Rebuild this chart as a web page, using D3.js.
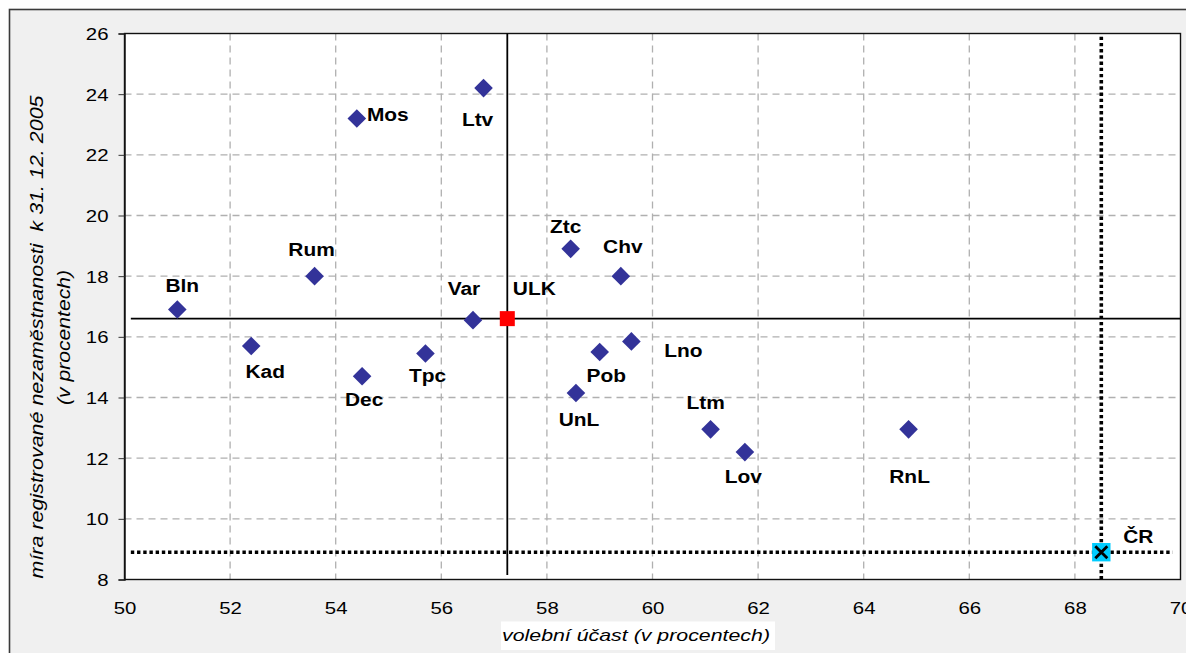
<!DOCTYPE html>
<html><head><meta charset="utf-8">
<script src="https://cdn.jsdelivr.net/npm/d3@7"></script>
<style>
html,body{margin:0;padding:0;background:#fff;}
svg{display:block;font-family:"Liberation Sans",Arial,sans-serif;}
</style></head>
<body>
<svg id="chart" width="1186" height="653"></svg>
<script>
// ---- data ----
const districts = ["Bln","Kad","Rum","Mos","Dec","Tpc","Var","Ltv","Ztc","Chv","Lno","Pob","UnL","Ltm","Lov","RnL"];
const turnout   = [51.0, 52.4, 53.6, 54.4, 54.5, 55.7, 56.6, 56.8, 58.45, 59.4, 59.6, 59.0, 58.55, 61.1, 61.75, 64.85];
const unemploy  = [16.9, 15.7, 18.0, 23.2, 14.7, 15.45, 16.55, 24.2, 18.9, 18.0, 15.85, 15.5, 14.15, 12.95, 12.2, 12.95];
const regionName = "ULK", regionTurnout = 57.25, regionUnemploy = 16.6;
const countryName = "ČR", countryTurnout = 68.5, countryUnemploy = 8.9;
const xTicks = [50,52,54,56,58,60,62,64,66,68,70];
const yTicks = [8,10,12,14,16,18,20,22,24,26];
const xTitle = "volební účast (v procentech)";
const yTitle1 = "míra registrované nezaměstnanosti  k 31. 12. 2005";
const yTitle2 = "(v procentech)";
// reference-line extents (data units)
const regionHLine = [50.12, 70];
const regionVLine = [8.15, 26];
const countryHLine = [50.12, 69.85];
const countryVLine = [8.0, 25.95];
// label placement (pixel offsets from marker, layout only)
const labelOffsets = [[5,-18],[14,32],[-3,-20],[31,3],[2,30],[2,28.5],[-9,-25],[-6,37.5],[-5,-16],[2,-23.5],[52,16],[6.5,29.5],[3,33.5],[-5,-20],[-1.5,31],[1,53.5]];
const regionLabelOffset = [27,-23.5];
const countryLabelOffset = [37,-9];

// ---- layout ----
const svg = d3.select("#chart");
const L = 124.5, R = 1180.5, T = 33.5, B = 579.5;
const x = d3.scaleLinear().domain([50,70]).range([L,R]);
const y = d3.scaleLinear().domain([8,26]).range([B,T]);

// outer frame
svg.append("rect").attr("x",9.5).attr("y",9.5).attr("width",1200).attr("height",700)
  .attr("fill","#f0f0f0").attr("stroke","#3a3a3a").attr("stroke-width",1.6);
// plot area
svg.append("rect").attr("x",L).attr("y",T).attr("width",R-L).attr("height",B-T).attr("fill","#fff");

// grid
const grid = svg.append("g").attr("stroke","#b0b0b0").attr("stroke-width",1.3).attr("stroke-dasharray","7,5");
grid.selectAll("line.v").data(xTicks.filter(d=>d>50&&d<70)).enter().append("line")
  .attr("x1",d=>x(d)).attr("x2",d=>x(d)).attr("y1",T).attr("y2",B);
grid.selectAll("line.h").data(yTicks.filter(d=>d>8&&d<26)).enter().append("line")
  .attr("y1",d=>y(d)).attr("y2",d=>y(d)).attr("x1",L).attr("x2",R);

// plot border
svg.append("rect").attr("x",L).attr("y",T).attr("width",R-L).attr("height",B-T)
  .attr("fill","none").attr("stroke","#111").attr("stroke-width",1.4);

// axes
const yAx = svg.append("g").attr("transform",`translate(${L},0)`)
  .call(d3.axisLeft(y).tickValues(yTicks).tickSize(6).tickFormat(d3.format("d")));
yAx.select(".domain").attr("stroke","#111").attr("stroke-width",1.4);
yAx.selectAll(".tick line").attr("stroke","#333");
yAx.selectAll(".tick text").attr("x",0).attr("dy","0.36em")
  .attr("transform","translate(-16,0) scale(1.2,1)")
  .attr("font-size",17).attr("fill","#000").attr("font-family","Liberation Sans, Arial, sans-serif");

const xAx = svg.append("g").attr("transform",`translate(0,${B})`)
  .call(d3.axisBottom(x).tickValues(xTicks).tickSize(0).tickFormat(d3.format("d")));
xAx.select(".domain").remove();
xAx.selectAll(".tick text").attr("y",22).attr("dy","0.71em")
  .attr("transform","scale(1.2,1)")
  .attr("font-size",17).attr("fill","#000").attr("font-family","Liberation Sans, Arial, sans-serif");

// axis titles
svg.append("rect").attr("x",501).attr("y",621.5).attr("width",274).attr("height",28.5).attr("fill","#fff");
svg.append("text").attr("x",636).attr("y",641).attr("text-anchor","middle")
  .attr("font-size",17).attr("font-style","italic").attr("fill","#000")
  .attr("textLength",268).attr("lengthAdjust","spacingAndGlyphs").text(xTitle);
svg.append("text").attr("transform","translate(42.7,337) rotate(-90)").attr("text-anchor","middle")
  .attr("font-size",17.5).attr("font-style","italic").attr("fill","#000").style("white-space","pre")
  .attr("textLength",483).attr("lengthAdjust","spacingAndGlyphs").text(yTitle1);
svg.append("text").attr("transform","translate(69.5,337.5) rotate(-90)").attr("text-anchor","middle")
  .attr("font-size",17.5).attr("font-style","italic").attr("fill","#000")
  .attr("textLength",135).attr("lengthAdjust","spacingAndGlyphs").text(yTitle2);

// reference lines
svg.append("line").attr("x1",x(regionHLine[0])).attr("x2",x(regionHLine[1]))
  .attr("y1",y(regionUnemploy)).attr("y2",y(regionUnemploy)).attr("stroke","#000").attr("stroke-width",1.8);
svg.append("line").attr("x1",x(regionTurnout)).attr("x2",x(regionTurnout))
  .attr("y1",y(regionVLine[0])).attr("y2",y(regionVLine[1])).attr("stroke","#000").attr("stroke-width",1.8);
svg.append("line").attr("x1",x(countryHLine[0])).attr("x2",x(countryHLine[1]))
  .attr("y1",y(countryUnemploy)).attr("y2",y(countryUnemploy)).attr("stroke","#000").attr("stroke-width",3.6).attr("stroke-dasharray","3.4,2.8");
svg.append("line").attr("x1",x(countryTurnout)).attr("x2",x(countryTurnout))
  .attr("y1",y(countryVLine[0])).attr("y2",y(countryVLine[1])).attr("stroke","#000").attr("stroke-width",3.6).attr("stroke-dasharray","3.4,2.8");

// district markers
const pts = districts.map((d,i)=>({name:d,tx:turnout[i],un:unemploy[i],off:labelOffsets[i]}));
const hd = 9.3;
svg.append("g").selectAll("path").data(pts).enter().append("path")
  .attr("d",d=>{const cx=x(d.tx), cy=y(d.un); return `M${cx},${cy-hd}L${cx+hd},${cy}L${cx},${cy+hd}L${cx-hd},${cy}Z`;})
  .attr("fill","#333399");

const labelStyle = sel => sel.attr("text-anchor","middle").attr("font-size",19).attr("font-weight","bold").attr("fill","#000");
svg.append("g").selectAll("text").data(pts).enter().append("text")
  .attr("transform",d=>`translate(${x(d.tx)+d.off[0]},${y(d.un)+d.off[1]}) scale(1.1,1)`)
  .call(labelStyle).text(d=>d.name);

// region marker
const rs = 7.5;
svg.append("rect").attr("x",x(regionTurnout)-rs).attr("y",y(regionUnemploy)-rs).attr("width",2*rs).attr("height",2*rs).attr("fill","#ff0000");
svg.append("text").attr("transform",`translate(${x(regionTurnout)+regionLabelOffset[0]},${y(regionUnemploy)+regionLabelOffset[1]}) scale(1.1,1)`)
  .call(labelStyle).text(regionName);

// country marker
const cs = 9.2, cx0 = x(countryTurnout), cy0 = y(countryUnemploy);
svg.append("rect").attr("x",cx0-cs).attr("y",cy0-cs).attr("width",2*cs).attr("height",2*cs).attr("fill","#00ccff");
svg.append("path").attr("d",`M${cx0-6},${cy0-6}L${cx0+6},${cy0+6}M${cx0+6},${cy0-6}L${cx0-6},${cy0+6}`)
  .attr("stroke","#000").attr("stroke-width",2.8);
svg.append("text").attr("transform",`translate(${cx0+countryLabelOffset[0]},${cy0+countryLabelOffset[1]}) scale(1.1,1)`)
  .call(labelStyle).text(countryName);
</script>
</body></html>
